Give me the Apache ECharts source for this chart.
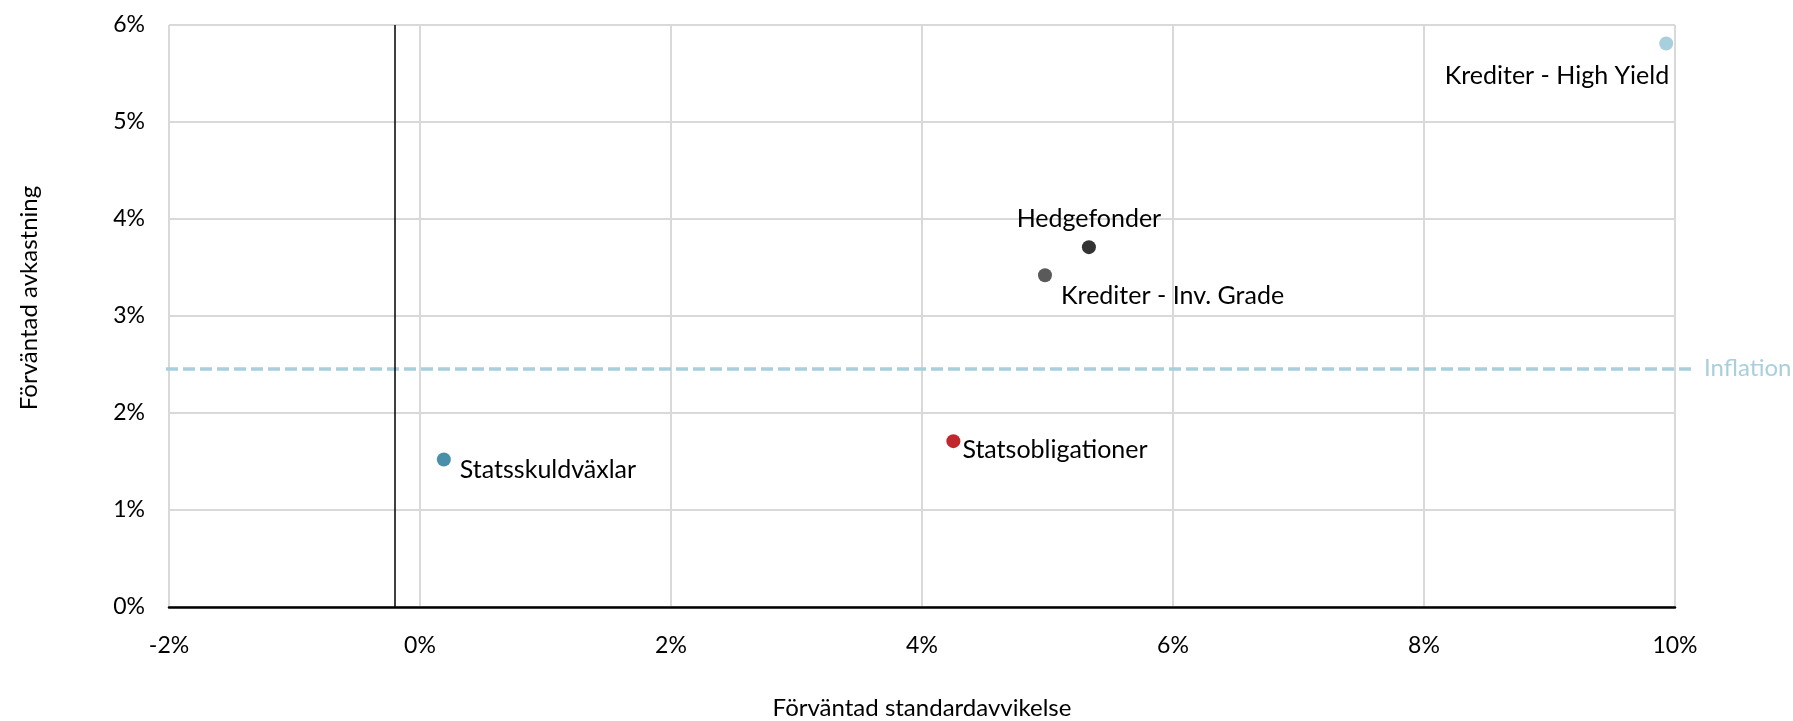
<!DOCTYPE html>
<html>
<head>
<meta charset="utf-8">
<script src="https://cdn.jsdelivr.net/npm/echarts@6/dist/echarts.min.js"></script>
<style>
html,body{margin:0;padding:0;background:#fff;}
#c{width:1793px;height:721px;}
</style>
</head>
<body>
<div id="c"></div>
<script>
// Data
const names = ['Statsskuldväxlar', 'Statsobligationer', 'Krediter - Inv. Grade', 'Hedgefonder', 'Krediter - High Yield'];
const stdDev = [0.19, 4.25, 4.98, 5.33, 9.93];
const expReturn = [1.52, 1.71, 3.42, 3.71, 5.81];
const colors = ['#4a8fa9', '#c1282d', '#5a5a5a', '#333333', '#a8d0dc'];
const inflation = 2.46;
const yAxisCross = -0.2;
const xTicks = [-2, 0, 2, 4, 6, 8, 10];
const yTicks = [0, 1, 2, 3, 4, 5, 6];

const FONT = 'Lato';
const labelCfg = [
  {position: 'right', distance: 9, offset: [0, 10]},
  {position: 'right', distance: 2, offset: [0, 9]},
  {position: 'right', distance: 9, offset: [0, 21]},
  {position: 'top', distance: 9, offset: [0, 0]},
  {position: 'left', distance: 0, offset: [10, 33]}
];

const series = names.map((n, i) => ({
  type: 'scatter',
  name: n,
  xAxisIndex: 0, yAxisIndex: 0,
  symbolSize: 14,
  itemStyle: {color: colors[i], opacity: 1},
  data: [[stdDev[i], expReturn[i]]],
  label: Object.assign({
    show: true,
    formatter: n,
    color: '#000',
    fontFamily: FONT,
    fontSize: 25
  }, labelCfg[i]),
  z: 5
}));

// Inflation line, drawn on an overlay grid that extends slightly beyond the plot
series.push({
  type: 'line',
  xAxisIndex: 1, yAxisIndex: 1,
  data: [],
  markLine: {
    silent: true,
    symbol: ['none', 'none'],
    animation: false,
    data: [{yAxis: inflation}],
    lineStyle: {color: '#a8cfdc', type: [12, 5], width: 3.5},
    label: {
      show: true, position: 'end', formatter: 'Inflation',
      color: '#a8cfdc', fontFamily: FONT, fontSize: 24, distance: 11
    }
  },
  z: 3
});
// Vertical axis line
series.push({
  type: 'line',
  xAxisIndex: 0, yAxisIndex: 0,
  data: [],
  markLine: {
    silent: true,
    symbol: ['none', 'none'],
    animation: false,
    data: [{xAxis: yAxisCross}],
    lineStyle: {color: '#000', type: 'solid', width: 1.5},
    label: {show: false}
  },
  z: 4
});

const chart = echarts.init(document.getElementById('c'));
chart.setOption({
  animation: false,
  backgroundColor: '#fff',
  grid: [
    {left: 169, right: 118, top: 25, bottom: 114, containLabel: false, outerBoundsMode: 'none'},
    {left: 166, right: 100, top: 25, bottom: 114, containLabel: false, outerBoundsMode: 'none'}
  ],
  xAxis: [{
    type: 'value', gridIndex: 0,
    min: xTicks[0], max: xTicks[xTicks.length - 1], interval: 2,
    name: 'Förväntad standardavvikelse',
    nameLocation: 'middle', nameGap: 89,
    nameTextStyle: {fontFamily: FONT, fontSize: 24, color: '#000'},
    axisLine: {show: true, onZero: false, lineStyle: {color: '#000', width: 2.5}},
    axisTick: {show: false},
    axisLabel: {formatter: '{value}%', fontFamily: FONT, fontSize: 23, color: '#000', margin: 27},
    splitLine: {show: true, lineStyle: {color: '#d9d9d9', width: 2}}
  }, {
    type: 'value', gridIndex: 1, min: 0, max: 1, show: false
  }],
  yAxis: [{
    type: 'value', gridIndex: 0,
    min: yTicks[0], max: yTicks[yTicks.length - 1], interval: 1,
    name: 'Förväntad avkastning',
    nameLocation: 'middle', nameGap: 128, nameRotate: 90,
    nameTextStyle: {fontFamily: FONT, fontSize: 24, color: '#000', padding: [0, 0, 0, 36]},
    axisLine: {show: false},
    axisTick: {show: false},
    axisLabel: {formatter: '{value}%', fontFamily: FONT, fontSize: 23, color: '#000', margin: 24},
    splitLine: {show: true, lineStyle: {color: '#d9d9d9', width: 2}}
  }, {
    type: 'value', gridIndex: 1,
    min: yTicks[0], max: yTicks[yTicks.length - 1], show: false
  }],
  series: series
});
</script>
</body>
</html>
